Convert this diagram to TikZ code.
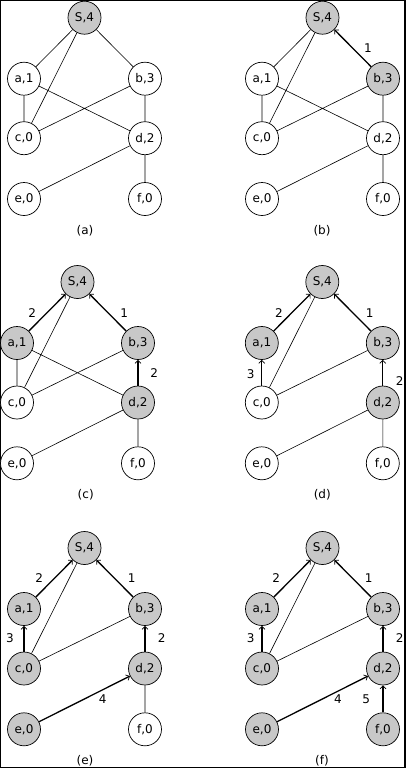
\documentclass[tikz,border=0pt]{standalone}
\usepackage{fontspec}
\setmainfont{DejaVu Sans}
\usetikzlibrary{arrows.meta}
\definecolor{nodegray}{RGB}{200,200,200}
\newcommand\placenodes[9]{%
  \begin{scope}[shift={#2}]
    \node[vnode,#3] (#1-S) at (0,0) {S,4};
    \node[vnode,#4] (#1-a) at (-60.5,61) {a,1};
    \node[vnode,#5] (#1-b) at (60.5,61) {b,3};
    \node[vnode,#6] (#1-c) at (-60.5,120.5) {c,0};
    \node[vnode,#7] (#1-d) at (60.5,120.5) {d,2};
    \node[vnode,#8] (#1-e) at (-60.5,181.3) {e,0};
    \node[vnode,#9] (#1-f) at (60.5,181.3) {f,0};
  \end{scope}}
\begin{document}
\begin{tikzpicture}[x=1pt,y=-1pt,
  txt/.style={font=\fontsize{12}{14}\selectfont},
  vnode/.style={circle, draw, line width=0.7pt, minimum size=33pt, inner sep=0pt, txt},
  gnode/.style={fill=nodegray},
  wnode/.style={fill=white},
  plainedge/.style={line width=0.6pt},
  treeedge/.style={line width=1.3pt, -{Straight Barb[length=3pt,width=6pt,line width=0.7pt]}},
  elbl/.style={txt, inner sep=0pt},
  captxt/.style={txt, inner sep=0pt}]
\useasboundingbox (0,0) rectangle (406,769);
\draw[line width=1.2pt] (0.8,0.8) rectangle (405,767.5);

% ---------- panel (a)
\placenodes{A}{(84.5,17.7)}{gnode}{wnode}{wnode}{wnode}{wnode}{wnode}{wnode}
\draw[plainedge] (A-S)--(A-a) (A-S)--(A-c) (A-S)--(A-b) (A-a)--(A-c) (A-a)--(A-d)
  (A-b)--(A-c) (A-b)--(A-d) (A-d)--(A-e) (A-d)--(A-f);
\node[captxt] (A-cap) at (85,231) {(a)};

% ---------- panel (b)
\placenodes{B}{(322.5,17.7)}{gnode}{wnode}{gnode}{wnode}{wnode}{wnode}{wnode}
\draw[plainedge] (B-S)--(B-a) (B-S)--(B-c) (B-a)--(B-c) (B-a)--(B-d)
  (B-b)--(B-c) (B-b)--(B-d) (B-d)--(B-e) (B-d)--(B-f);
\draw[treeedge] (B-b)--(B-S);
\node[elbl] (B-l1) at (368,48.3) {1};
\node[captxt] (B-cap) at (322,231) {(b)};

% ---------- panel (c)
\placenodes{C}{(77.5,282)}{gnode}{gnode}{gnode}{wnode}{gnode}{wnode}{wnode}
\draw[plainedge] (C-S)--(C-c) (C-a)--(C-c) (C-a)--(C-d)
  (C-b)--(C-c) (C-d)--(C-e) (C-d)--(C-f);
\draw[treeedge] (C-a)--(C-S);
\draw[treeedge] (C-b)--(C-S);
\draw[treeedge] (C-d)--(C-b);
\node[elbl] (C-l1) at (32.3,313.3) {2};
\node[elbl] (C-l2) at (124.3,313.3) {1};
\node[elbl] (C-l3) at (154.3,372.7) {2};
\node[captxt] (C-cap) at (85.7,495) {(c)};

% ---------- panel (d)
\placenodes{D}{(322.3,282)}{gnode}{gnode}{gnode}{wnode}{gnode}{wnode}{wnode}
\draw[plainedge] (D-S)--(D-c) (D-b)--(D-c) (D-d)--(D-e) (D-d)--(D-f);
\draw[treeedge] (D-a)--(D-S);
\draw[treeedge] (D-b)--(D-S);
\draw[treeedge] (D-c)--(D-a);
\draw[treeedge] (D-d)--(D-b);
\node[elbl] (D-l1) at (279,313.3) {2};
\node[elbl] (D-l2) at (369.7,313.3) {1};
\node[elbl] (D-l3) at (250.7,374.3) {3};
\node[elbl] (D-l4) at (399.7,381) {2};
\node[captxt] (D-cap) at (322.3,495) {(d)};

% ---------- panel (e)
\placenodes{E}{(84.5,548)}{gnode}{gnode}{gnode}{gnode}{gnode}{gnode}{wnode}
\draw[plainedge] (E-S)--(E-c) (E-b)--(E-c) (E-d)--(E-f);
\draw[treeedge] (E-a)--(E-S);
\draw[treeedge] (E-b)--(E-S);
\draw[treeedge] (E-c)--(E-a);
\draw[treeedge] (E-d)--(E-b);
\draw[treeedge] (E-e)--(E-d);
\node[elbl] (E-l1) at (39.3,577.7) {2};
\node[elbl] (E-l2) at (131.7,577.7) {1};
\node[elbl] (E-l3) at (10,638) {3};
\node[elbl] (E-l4) at (161.7,638) {2};
\node[elbl] (E-l5) at (102.7,699.3) {4};
\node[captxt] (E-cap) at (85,760.3) {(e)};

% ---------- panel (f)
\placenodes{F}{(322.5,548)}{gnode}{gnode}{gnode}{gnode}{gnode}{gnode}{gnode}
\draw[plainedge] (F-S)--(F-c) (F-b)--(F-c);
\draw[treeedge] (F-a)--(F-S);
\draw[treeedge] (F-b)--(F-S);
\draw[treeedge] (F-c)--(F-a);
\draw[treeedge] (F-d)--(F-b);
\draw[treeedge] (F-e)--(F-d);
\draw[treeedge] (F-f)--(F-d);
\node[elbl] (F-l1) at (276.3,577.7) {2};
\node[elbl] (F-l2) at (368.7,577.7) {1};
\node[elbl] (F-l3) at (250.7,638) {3};
\node[elbl] (F-l4) at (399.7,638) {2};
\node[elbl] (F-l5) at (338,699.3) {4};
\node[elbl] (F-l6) at (366.3,699.3) {5};
\node[captxt] (F-cap) at (322,760.3) {(f)};
\end{tikzpicture}
\end{document}
